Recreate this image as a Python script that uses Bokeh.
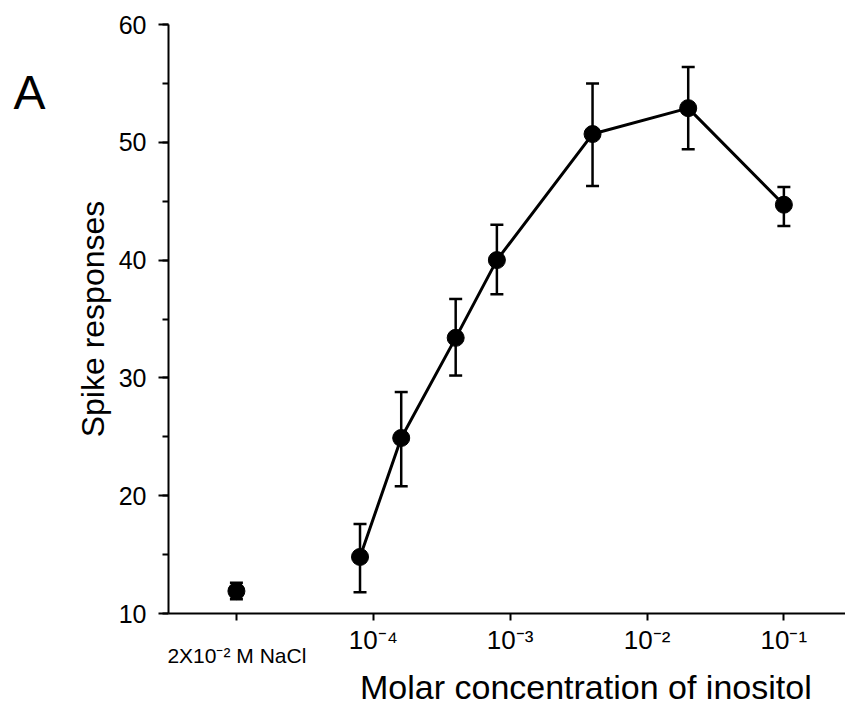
from bokeh.plotting import figure
from bokeh.models import Range1d, FixedTicker, SingleIntervalTicker, Whisker, TeeHead, ColumnDataSource, Label
from bokeh.embed import file_html
from bokeh.resources import INLINE

# ---- data ----
conc = [8e-5, 1.6e-4, 4e-4, 8e-4, 4e-3, 2e-2, 1e-1]
resp = [14.8, 24.9, 33.4, 40.0, 50.7, 52.9, 44.7]
resp_hi = [17.6, 28.8, 36.7, 43.0, 55.0, 56.4, 46.2]
resp_lo = [11.8, 20.8, 30.2, 37.1, 46.3, 49.4, 42.9]

nacl_pos = [1e-5]
nacl_resp = [11.9]
nacl_hi = [12.6]
nacl_lo = [11.2]

x_ticks = [1e-5, 1e-4, 1e-3, 1e-2, 1e-1]
x_tick_labels = ["", "10⁻⁴", "10⁻³", "10⁻²", "10⁻¹"]
nacl_label = "2X10⁻² M NaCl"
x_title = "Molar concentration of inositol"
y_title = "Spike responses"
panel = "A"

FONT = "Liberation Sans"

p = figure(width=845, height=702, x_axis_type="log",
           x_range=Range1d(3.19e-6, 0.282), y_range=Range1d(10, 60),
           output_backend="svg", toolbar_location=None,
           min_border_left=168, min_border_right=0,
           min_border_top=24, min_border_bottom=89)
p.outline_line_color = None
p.grid.visible = False
p.background_fill_color = "white"
p.border_fill_color = "white"

# axes
p.xaxis.ticker = FixedTicker(ticks=x_ticks)
p.xaxis.major_label_overrides = {t: l for t, l in zip(x_ticks, x_tick_labels)}
p.xaxis.major_tick_in = 0
p.xaxis.major_tick_out = 7
p.xaxis.minor_tick_line_color = None
p.xaxis.major_label_standoff = 4
p.xaxis.major_label_text_font = FONT
p.xaxis.major_label_text_font_size = "26px"
p.xaxis.major_label_text_color = "black"

p.yaxis.ticker = SingleIntervalTicker(interval=10, num_minor_ticks=2)
p.yaxis.major_tick_in = 0
p.yaxis.major_tick_out = 10
p.yaxis.minor_tick_in = 0
p.yaxis.minor_tick_out = 6
p.yaxis.major_label_standoff = 12
p.yaxis.major_label_text_font = FONT
p.yaxis.major_label_text_font_size = "25px"
p.yaxis.major_label_text_color = "black"
p.yaxis.axis_label = y_title
p.yaxis.axis_label_text_font = FONT
p.yaxis.axis_label_text_font_size = "32px"
p.yaxis.axis_label_text_font_style = "normal"
p.yaxis.axis_label_text_color = "black"
p.yaxis.axis_label_standoff = 5

for ax in (p.xaxis, p.yaxis):
    ax.axis_line_color = "black"
    ax.axis_line_width = 2
    ax.major_tick_line_color = "black"
    ax.major_tick_line_width = 2
    ax.minor_tick_line_width = 2

# data source
src = ColumnDataSource(dict(x=conc, y=resp, hi=resp_hi, lo=resp_lo))
nsrc = ColumnDataSource(dict(x=nacl_pos, y=nacl_resp, hi=nacl_hi, lo=nacl_lo))

p.line("x", "y", source=src, line_color="black", line_width=3)

for s in (src, nsrc):
    w = Whisker(source=s, base="x", upper="hi", lower="lo",
                line_color="black", line_width=2.5,
                upper_head=TeeHead(size=13, line_color="black", line_width=2.5),
                lower_head=TeeHead(size=13, line_color="black", line_width=2.5))
    p.add_layout(w)

p.scatter("x", "y", source=src, size=17, fill_color="black", line_color="black")
p.scatter("x", "y", source=nsrc, size=17, fill_color="black", line_color="black")

# texts outside the frame (placed in side panels so they are not clipped;
# their positions come from the data scales)
p.add_layout(Label(x=10 ** -5.504, y=6.45, text=nacl_label, text_font=FONT,
                   text_font_size="21px", text_color="black", text_align="left",
                   text_baseline="alphabetic"), "above")
p.add_layout(Label(x=10 ** -4.097, y=3.72, text=x_title, text_font=FONT,
                   text_font_size="34px", text_color="black", text_align="left",
                   text_baseline="alphabetic"), "below")
p.add_layout(Label(x=10 ** -6.628, y=54.25, text=panel, text_font=FONT,
                   text_font_size="48px", text_color="black", text_align="left",
                   text_baseline="alphabetic"), "left")

open("out.html", "w").write(file_html(p, INLINE))
